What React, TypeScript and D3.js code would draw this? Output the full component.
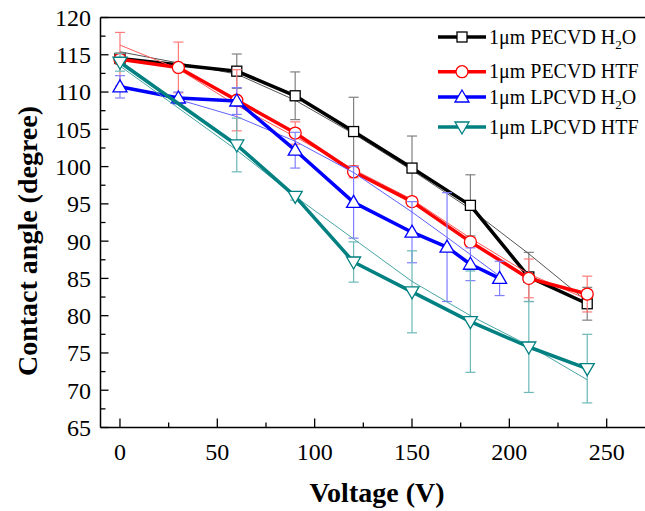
import React from "react";
import * as d3 from "d3";

const W = 645;
const H = 511;

// series data
const voltsPeH2O = [0, 60, 90, 120, 150, 180, 210, 240];
const anglePeH2O = [114.5, 112.8, 109.5, 104.7, 99.8, 94.8, 85.2, 81.6];
const errPeH2O = [0.7, 2.3, 3.2, 4.6, 4.3, 4.1, 3.3, 2.2];
const fitPeH2O = [115.4, 112.4, 108.9, 104.4, 99.5, 94.3, 88.3, 81.9];

const voltsPeHTF = [0, 30, 60, 90, 120, 150, 180, 210, 240];
const anglePeHTF = [114.4, 113.3, 108.9, 104.5, 99.3, 95.3, 89.9, 85.0, 82.9];
const errPeHTF = [3.6, 3.4, 4.1, 1.5, 0.8, 0.6, 0.6, 2.6, 2.4];
const fitPeHTF = [116.3, 113.1, 108.2, 104.0, 99.6, 95.6, 90.4, 85.6, 82.2];

const voltsLpH2O = [0, 30, 60, 90, 120, 150, 168, 180, 195];
const angleLpH2O = [110.7, 109.2, 108.8, 102.2, 95.2, 91.2, 89.2, 86.9, 85.0];
const errLpH2O = [1.5, 0.8, 1.8, 2.4, 4.8, 4.1, 7.3, 2.2, 2.3];
const fitLpH2O = [110.8, 109.0, 106.7, 103.4, 99.2, 93.9, 90.5, 88.2, 85.3];

const voltsLpHTF = [0, 60, 90, 120, 150, 180, 210, 240];
const angleLpHTF = [114.0, 102.9, 96.0, 87.2, 83.2, 79.2, 75.8, 72.9];
const errLpHTF = [1.2, 3.6, 0.5, 2.7, 5.5, 6.8, 6.1, 4.6];
const fitLpHTF = [113.5, 102.2, 96.0, 90.3, 84.6, 80.0, 76.0, 71.4];

const xTicks = [0, 50, 100, 150, 200, 250];
const yTicks = [65, 70, 75, 80, 85, 90, 95, 100, 105, 110, 115, 120];

const series = [
  {
    name: "1μm PECVD H", sub: "2", tail: "O", marker: "square",
    color: "#000000", thin: "#555555", err: "#808080",
    x: voltsPeH2O, y: anglePeH2O, e: errPeH2O, fit: fitPeH2O,
  },
  {
    name: "1μm PECVD HTF", sub: "", tail: "", marker: "circle",
    color: "#ff0000", thin: "#ff5a5a", err: "#ff7a7a",
    x: voltsPeHTF, y: anglePeHTF, e: errPeHTF, fit: fitPeHTF,
  },
  {
    name: "1μm LPCVD H", sub: "2", tail: "O", marker: "up",
    color: "#0000ff", thin: "#6060ff", err: "#7f7fff",
    x: voltsLpH2O, y: angleLpH2O, e: errLpH2O, fit: fitLpH2O,
  },
  {
    name: "1μm LPCVD HTF", sub: "", tail: "", marker: "down",
    color: "#008080", thin: "#4aa5a5", err: "#6cb8b8",
    x: voltsLpHTF, y: angleLpHTF, e: errLpHTF, fit: fitLpHTF,
  },
];

const FONT = "'Liberation Serif', 'Times New Roman', serif";

function Marker({ kind, cx, cy, color }: { kind: string; cx: number; cy: number; color: string }) {
  const sw = 1.3;
  if (kind === "square")
    return <rect x={cx - 5} y={cy - 5} width={10} height={10} fill="white" stroke={color} strokeWidth={sw} />;
  if (kind === "circle")
    return <circle cx={cx} cy={cy} r={6} fill="white" stroke={color} strokeWidth={sw} />;
  if (kind === "up")
    return (
      <path
        d={`M ${cx} ${cy - 7} L ${cx + 7} ${cy + 5} L ${cx - 7} ${cy + 5} Z`}
        fill="white" stroke={color} strokeWidth={sw}
      />
    );
  return (
    <path
      d={`M ${cx} ${cy + 7} L ${cx + 7} ${cy - 5} L ${cx - 7} ${cy - 5} Z`}
      fill="white" stroke={color} strokeWidth={sw}
    />
  );
}

export default function App() {
  const x = d3.scaleLinear().domain([-10, 280]).range([100.5, 665.1]);
  const y = d3.scaleLinear().domain([65, 120]).range([427.5, 17.5]);

  const left = x(-10);
  const right = W + 10;
  const top = y(120);
  const bottom = y(65);

  const line = d3
    .line<[number, number]>()
    .x((d) => x(d[0]))
    .y((d) => y(d[1]));

  const minorX = d3.range(25, 280, 50);
  const minorY = d3.range(67.5, 120, 5);

  const legendRows = [37, 71.7, 97, 127];

  return (
    <svg
      width={W}
      height={H}
      style={{ position: "absolute", left: 0, top: 0, background: "white" }}
      fontFamily={FONT}
    >
      {/* data */}
      {series.map((s) => {
        const pts = s.x.map((v, i) => [v, s.y[i]] as [number, number]);
        const fitPts = s.x.map((v, i) => [v, s.fit[i]] as [number, number]);
        return (
          <g key={s.name + s.marker}>
            {pts.map(([v, a], i) => (
              <g key={i} stroke={s.err} strokeWidth={1.2}>
                <line x1={x(v)} x2={x(v)} y1={y(a + s.e[i])} y2={y(a - s.e[i])} />
                <line x1={x(v) - 5} x2={x(v) + 5} y1={y(a + s.e[i])} y2={y(a + s.e[i])} />
                <line x1={x(v) - 5} x2={x(v) + 5} y1={y(a - s.e[i])} y2={y(a - s.e[i])} />
              </g>
            ))}
            <path d={line(fitPts) ?? ""} fill="none" stroke={s.thin} strokeWidth={1} />
            <path d={line(pts) ?? ""} fill="none" stroke={s.color} strokeWidth={3.5} strokeLinejoin="round" />
            {pts.map(([v, a], i) => (
              <Marker key={i} kind={s.marker} cx={x(v)} cy={y(a)} color={s.color} />
            ))}
          </g>
        );
      })}

      {/* frame */}
      <g stroke="black" strokeWidth={1.5} fill="none">
        <line x1={left} x2={left} y1={top} y2={bottom} />
        <line x1={left} x2={right} y1={bottom} y2={bottom} />
        <line x1={left} x2={right} y1={top} y2={top} />
      </g>

      {/* y axis */}
      <g stroke="black" strokeWidth={1.3}>
        {yTicks.map((t) => (
          <line key={t} x1={left} x2={left + 8} y1={y(t)} y2={y(t)} />
        ))}
        {minorY.map((t) => (
          <line key={t} x1={left} x2={left + 5} y1={y(t)} y2={y(t)} />
        ))}
      </g>
      {yTicks.map((t) => (
        <text key={t} x={91} y={y(t)} dy="0.35em" textAnchor="end" fontSize={24} fill="black">
          {t}
        </text>
      ))}

      {/* x axis */}
      <g stroke="black" strokeWidth={1.3}>
        {xTicks.map((t) => (
          <line key={t} x1={x(t)} x2={x(t)} y1={bottom} y2={bottom - 9} />
        ))}
        {minorX.map((t) => (
          <line key={t} x1={x(t)} x2={x(t)} y1={bottom} y2={bottom - 5} />
        ))}
      </g>
      {xTicks.map((t) => (
        <text key={t} x={x(t)} y={460} textAnchor="middle" fontSize={24} fill="black">
          {t}
        </text>
      ))}

      {/* titles */}
      <text x={377} y={502} textAnchor="middle" fontSize={28} fontWeight="bold" fill="black">
        Voltage (V)
      </text>
      <text
        transform={`translate(37, 241) rotate(-90)`}
        textAnchor="middle"
        fontSize={28}
        fontWeight="bold"
        fill="black"
      >
        Contact angle (degree)
      </text>

      {/* legend */}
      {series.map((s, i) => {
        const ly = legendRows[i];
        return (
          <g key={"lg" + i}>
            <line x1={438} x2={486} y1={ly} y2={ly} stroke={s.color} strokeWidth={3.5} />
            <Marker kind={s.marker} cx={462} cy={ly} color={s.color} />
            <text x={489} y={ly + 6.5} fontSize={20} fill="black">
              {s.name}
              {s.sub && (
                <>
                  <tspan dy={5} fontSize={13}>{s.sub}</tspan>
                  <tspan dy={-5}>{s.tail}</tspan>
                </>
              )}
            </text>
          </g>
        );
      })}
    </svg>
  );
}
